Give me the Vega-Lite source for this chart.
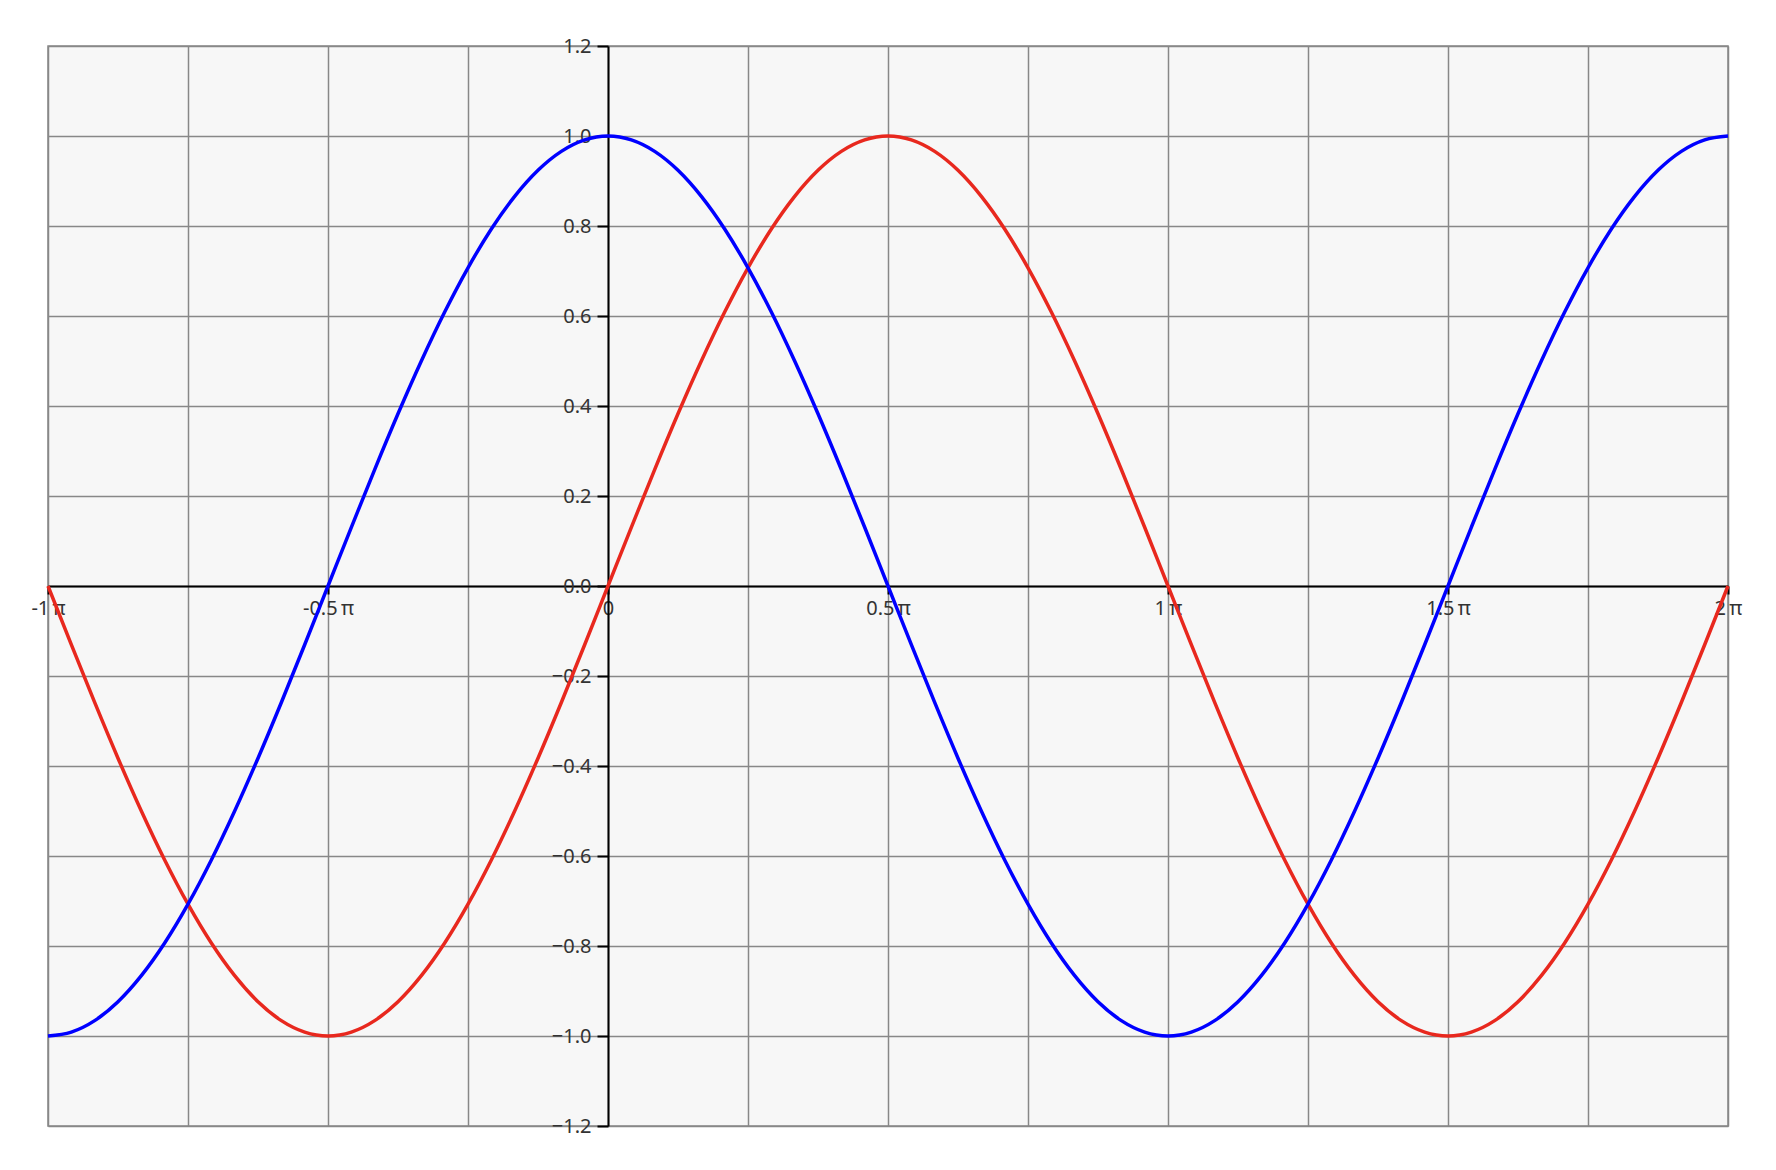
{
  "$schema": "https://vega.github.io/schema/vega-lite/v6.json",
  "width": 1680,
  "height": 1080,
  "autosize": {"type": "none"},
  "padding": {"left": 48, "top": 46, "right": 48, "bottom": 44},
  "background": "white",
  "config": {
    "view": {"fill": "#f7f7f7", "stroke": "#888888", "strokeWidth": 1.5},
    "font": "Noto Sans"
  },
  "data": {"values": [
    {"deg": -180, "sin": 0, "cos": -1},
    {"deg": -172.5, "sin": -0.1305, "cos": -0.9914},
    {"deg": -165, "sin": -0.2588, "cos": -0.9659},
    {"deg": -157.5, "sin": -0.3827, "cos": -0.9239},
    {"deg": -150, "sin": -0.5, "cos": -0.866},
    {"deg": -142.5, "sin": -0.6088, "cos": -0.7934},
    {"deg": -135, "sin": -0.7071, "cos": -0.7071},
    {"deg": -127.5, "sin": -0.7934, "cos": -0.6088},
    {"deg": -120, "sin": -0.866, "cos": -0.5},
    {"deg": -112.5, "sin": -0.9239, "cos": -0.3827},
    {"deg": -105, "sin": -0.9659, "cos": -0.2588},
    {"deg": -97.5, "sin": -0.9914, "cos": -0.1305},
    {"deg": -90, "sin": -1, "cos": 0},
    {"deg": -82.5, "sin": -0.9914, "cos": 0.1305},
    {"deg": -75, "sin": -0.9659, "cos": 0.2588},
    {"deg": -67.5, "sin": -0.9239, "cos": 0.3827},
    {"deg": -60, "sin": -0.866, "cos": 0.5},
    {"deg": -52.5, "sin": -0.7934, "cos": 0.6088},
    {"deg": -45, "sin": -0.7071, "cos": 0.7071},
    {"deg": -37.5, "sin": -0.6088, "cos": 0.7934},
    {"deg": -30, "sin": -0.5, "cos": 0.866},
    {"deg": -22.5, "sin": -0.3827, "cos": 0.9239},
    {"deg": -15, "sin": -0.2588, "cos": 0.9659},
    {"deg": -7.5, "sin": -0.1305, "cos": 0.9914},
    {"deg": 0, "sin": 0, "cos": 1},
    {"deg": 7.5, "sin": 0.1305, "cos": 0.9914},
    {"deg": 15, "sin": 0.2588, "cos": 0.9659},
    {"deg": 22.5, "sin": 0.3827, "cos": 0.9239},
    {"deg": 30, "sin": 0.5, "cos": 0.866},
    {"deg": 37.5, "sin": 0.6088, "cos": 0.7934},
    {"deg": 45, "sin": 0.7071, "cos": 0.7071},
    {"deg": 52.5, "sin": 0.7934, "cos": 0.6088},
    {"deg": 60, "sin": 0.866, "cos": 0.5},
    {"deg": 67.5, "sin": 0.9239, "cos": 0.3827},
    {"deg": 75, "sin": 0.9659, "cos": 0.2588},
    {"deg": 82.5, "sin": 0.9914, "cos": 0.1305},
    {"deg": 90, "sin": 1, "cos": 0},
    {"deg": 97.5, "sin": 0.9914, "cos": -0.1305},
    {"deg": 105, "sin": 0.9659, "cos": -0.2588},
    {"deg": 112.5, "sin": 0.9239, "cos": -0.3827},
    {"deg": 120, "sin": 0.866, "cos": -0.5},
    {"deg": 127.5, "sin": 0.7934, "cos": -0.6088},
    {"deg": 135, "sin": 0.7071, "cos": -0.7071},
    {"deg": 142.5, "sin": 0.6088, "cos": -0.7934},
    {"deg": 150, "sin": 0.5, "cos": -0.866},
    {"deg": 157.5, "sin": 0.3827, "cos": -0.9239},
    {"deg": 165, "sin": 0.2588, "cos": -0.9659},
    {"deg": 172.5, "sin": 0.1305, "cos": -0.9914},
    {"deg": 180, "sin": 0, "cos": -1},
    {"deg": 187.5, "sin": -0.1305, "cos": -0.9914},
    {"deg": 195, "sin": -0.2588, "cos": -0.9659},
    {"deg": 202.5, "sin": -0.3827, "cos": -0.9239},
    {"deg": 210, "sin": -0.5, "cos": -0.866},
    {"deg": 217.5, "sin": -0.6088, "cos": -0.7934},
    {"deg": 225, "sin": -0.7071, "cos": -0.7071},
    {"deg": 232.5, "sin": -0.7934, "cos": -0.6088},
    {"deg": 240, "sin": -0.866, "cos": -0.5},
    {"deg": 247.5, "sin": -0.9239, "cos": -0.3827},
    {"deg": 255, "sin": -0.9659, "cos": -0.2588},
    {"deg": 262.5, "sin": -0.9914, "cos": -0.1305},
    {"deg": 270, "sin": -1, "cos": 0},
    {"deg": 277.5, "sin": -0.9914, "cos": 0.1305},
    {"deg": 285, "sin": -0.9659, "cos": 0.2588},
    {"deg": 292.5, "sin": -0.9239, "cos": 0.3827},
    {"deg": 300, "sin": -0.866, "cos": 0.5},
    {"deg": 307.5, "sin": -0.7934, "cos": 0.6088},
    {"deg": 315, "sin": -0.7071, "cos": 0.7071},
    {"deg": 322.5, "sin": -0.6088, "cos": 0.7934},
    {"deg": 330, "sin": -0.5, "cos": 0.866},
    {"deg": 337.5, "sin": -0.3827, "cos": 0.9239},
    {"deg": 345, "sin": -0.2588, "cos": 0.9659},
    {"deg": 352.5, "sin": -0.1305, "cos": 0.9914},
    {"deg": 360, "sin": 0, "cos": 1}
  ]},
  "transform": [{"fold": ["sin", "cos"], "as": ["fn", "value"]}],
  "mark": {"type": "line", "strokeWidth": 3.5, "interpolate": "monotone"},
  "encoding": {
    "x": {
      "field": "deg",
      "type": "quantitative",
      "scale": {"domain": [-180, 360], "nice": false, "zero": false},
      "axis": {
        "title": null,
        "orient": "bottom",
        "offset": -540,
        "values": [-180, -135, -90, -45, 0, 45, 90, 135, 180, 225, 270, 315, 360],
        "grid": true,
        "gridColor": "#888888",
        "gridWidth": 1.5,
        "domainColor": "#000000",
        "domainWidth": 2,
        "tickColor": "#000000",
        "tickWidth": 2,
        "tickSize": 8,
        "tickOpacity": {"condition": {"test": "datum.value % 90 !== 0", "value": 0}, "value": 1},
        "labelExpr": "datum.value % 90 !== 0 ? '' : (datum.value === 0 ? '0' : (datum.value / 180) + '\u2009π')",
        "labelFontSize": 20,
        "labelColor": "#333333",
        "labelPadding": 4,
        "labelFlush": false,
        "labelOverlap": false
      }
    },
    "y": {
      "field": "value",
      "type": "quantitative",
      "scale": {"domain": [-1.2, 1.2], "nice": false, "zero": false},
      "axis": {
        "title": null,
        "orient": "left",
        "offset": -560,
        "values": [-1.2, -1, -0.8, -0.6, -0.4, -0.2, 0, 0.2, 0.4, 0.6, 0.8, 1, 1.2],
        "format": ".1f",
        "grid": true,
        "gridColor": "#888888",
        "gridWidth": 1.5,
        "domainColor": "#000000",
        "domainWidth": 2,
        "tickColor": "#000000",
        "tickWidth": 2,
        "tickSize": 11,
        "labelFontSize": 20,
        "labelColor": "#333333",
        "labelPadding": 6,
        "labelFlush": false,
        "labelOverlap": false
      }
    },
    "color": {
      "field": "fn",
      "type": "nominal",
      "scale": {"domain": ["sin", "cos"], "range": ["#e8281e", "#0000ff"]},
      "legend": null
    }
  }
}
